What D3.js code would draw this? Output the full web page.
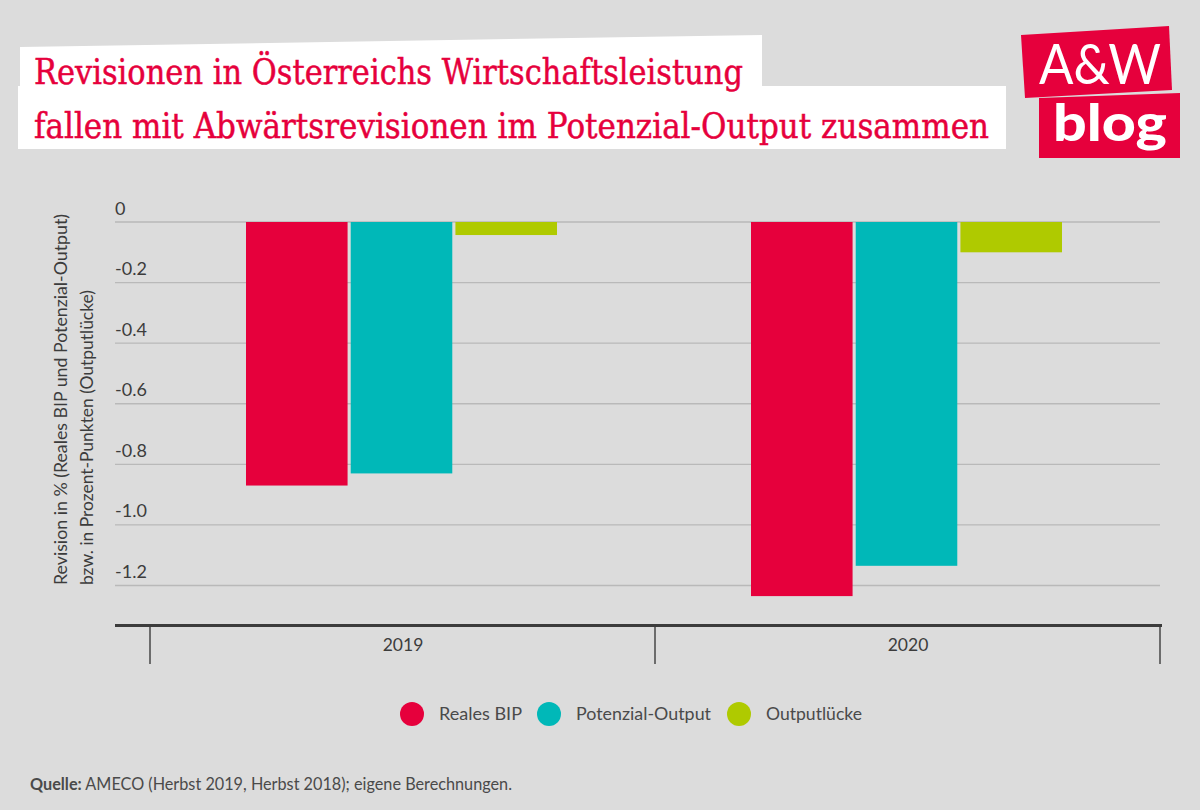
<!DOCTYPE html>
<html>
<head>
<meta charset="utf-8">
<script src="https://cdn.jsdelivr.net/npm/d3@7"></script>
<style>
  html, body { margin: 0; padding: 0; background: #dcdcdc; }
  svg { display: block; font-family: Lato, sans-serif; }
</style>
</head>
<body>
<div id="chart"></div>
<script>
const years = ["2019", "2020"];
const seriesNames = ["Reales BIP", "Potenzial-Output", "Outputlücke"];
const realesBip = [-0.87, -1.235];
const potenzialOutput = [-0.83, -1.135];
const outputluecke = [-0.043, -0.1];
const yTicks = [0, -0.2, -0.4, -0.6, -0.8, -1.0, -1.2];
const seriesColors = ["#e6003c", "#00b8b8", "#afca00"];

const fullWidth = 1200;
const fullHeight = 810;

const svg = d3.select("#chart")
  .append("svg")
  .attr("width", fullWidth)
  .attr("height", fullHeight);

svg.append("rect")
  .attr("width", fullWidth)
  .attr("height", fullHeight)
  .attr("fill", "#dcdcdc");

// Title

svg.append("path")
  .attr("d", "M20 47 L762 35 L762 86 L20 86 Z")
  .attr("fill", "#fff");
svg.append("path")
  .attr("d", "M18 86 L1006 86 L1006 149 L18 149 Z")
  .attr("fill", "#fff");

const titleLines = [
  { text: "Revisionen in Österreichs Wirtschaftsleistung", y: 84, len: 709 },
  { text: "fallen mit Abwärtsrevisionen im Potenzial-Output zusammen", y: 138, len: 955 }
];

svg.selectAll(".title")
  .data(titleLines)
  .join("text")
  .attr("class", "title")
  .attr("x", 34)
  .attr("y", d => d.y)
  .attr("textLength", d => d.len)
  .attr("lengthAdjust", "spacingAndGlyphs")
  .style("font-family", "'DejaVu Serif', serif")
  .style("font-size", "36px")
  .attr("fill", "#e6003c")
  .attr("stroke", "#e6003c")
  .attr("stroke-width", 0.5)
  .text(d => d.text);

// Logo

svg.append("path")
  .attr("d", "M1021 35 L1169 26 L1172 90 L1025 98 Z")
  .attr("fill", "#e6003c");
svg.append("path")
  .attr("d", "M1039 98 L1180 93 L1180 158 L1039 158 Z")
  .attr("fill", "#e6003c");
svg.append("text")
  .attr("x", 1039)
  .attr("y", 84)
  .attr("textLength", 122)
  .attr("lengthAdjust", "spacingAndGlyphs")
  .style("font-size", "57px")
  .attr("fill", "#fff")
  .text("A&W");
svg.append("text")
  .attr("x", 1053)
  .attr("y", 141)
  .attr("textLength", 114)
  .attr("lengthAdjust", "spacingAndGlyphs")
  .style("font-weight", 900)
  .style("font-size", "51px")
  .attr("fill", "#fff")
  .text("blog");

// Scales

const xScale = d3.scaleBand()
  .domain(years)
  .range([150, 1160]);

const groupScale = d3.scaleBand()
  .domain(seriesNames)
  .range([96, 96 + 311])
  .paddingInner(0.03);

const yScale = d3.scaleLinear()
  .domain([0, -1.2])
  .range([222, 585.5]);

// Grid Lines

svg.selectAll(".grid")
  .data(yTicks)
  .join("line")
  .attr("class", "grid")
  .attr("x1", 115)
  .attr("x2", 1160)
  .attr("y1", d => yScale(d))
  .attr("y2", d => yScale(d))
  .attr("stroke", "#b9b9b9")
  .attr("stroke-width", 1.4);

svg.selectAll(".ytick")
  .data(yTicks)
  .join("text")
  .attr("class", "ytick")
  .attr("x", 115)
  .attr("y", d => yScale(d) - 7.5)
  .style("font-size", "18px")
  .attr("fill", "#3c3c3c")
  .text(d => d === 0 ? "0" : d.toFixed(1));

// Bars

const seriesValues = [realesBip, potenzialOutput, outputluecke];

seriesNames.forEach((name, i) => {
  svg.selectAll(".bar-" + i)
    .data(seriesValues[i])
    .join("rect")
    .attr("class", "bar-" + i)
    .attr("x", (d, j) => xScale(years[j]) + groupScale(name))
    .attr("y", yScale(0))
    .attr("width", groupScale.bandwidth())
    .attr("height", d => yScale(d) - yScale(0))
    .attr("fill", seriesColors[i]);
});

// X Axis

svg.append("line")
  .attr("x1", 115)
  .attr("x2", 1162)
  .attr("y1", 625.5)
  .attr("y2", 625.5)
  .attr("stroke", "#3c3c3c")
  .attr("stroke-width", 3);

svg.selectAll(".xtick")
  .data([xScale("2019"), xScale("2020"), xScale("2020") + xScale.bandwidth()])
  .join("line")
  .attr("class", "xtick")
  .attr("x1", d => d)
  .attr("x2", d => d)
  .attr("y1", 625)
  .attr("y2", 664)
  .attr("stroke", "#3c3c3c")
  .attr("stroke-width", 1.4);

svg.selectAll(".xlabel")
  .data(years)
  .join("text")
  .attr("class", "xlabel")
  .attr("x", d => xScale(d) + xScale.bandwidth() / 2 + 0.5)
  .attr("y", 651)
  .attr("text-anchor", "middle")
  .style("font-size", "17.5px")
  .attr("fill", "#3c3c3c")
  .text(d => d);

// Y Axis Label

const yLabels = [
  { text: "Revision in % (Reales BIP und Potenzial-Output)", x: 67, len: 371 },
  { text: "bzw. in Prozent-Punkten (Outputlücke)", x: 93, len: 295 }
];

svg.selectAll(".ylabel")
  .data(yLabels)
  .join("text")
  .attr("class", "ylabel")
  .attr("transform", d => `translate(${d.x},585) rotate(-90)`)
  .attr("textLength", d => d.len)
  .attr("lengthAdjust", "spacingAndGlyphs")
  .style("font-size", "17px")
  .attr("fill", "#3c3c3c")
  .text(d => d.text);

// Legend

const legendX = [412, 549, 739];
const legendTextX = [439, 576, 766];
const legendLen = [83, 135, 96];

seriesNames.forEach((name, i) => {
  svg.append("circle")
    .attr("cx", legendX[i])
    .attr("cy", 714)
    .attr("r", 12)
    .attr("fill", seriesColors[i]);
  svg.append("text")
    .attr("x", legendTextX[i])
    .attr("y", 720)
    .attr("textLength", legendLen[i])
    .attr("lengthAdjust", "spacingAndGlyphs")
    .style("font-size", "18px")
    .attr("fill", "#4a4a4a")
    .text(name);
});

// Source

const source = svg.append("text")
  .attr("x", 30)
  .attr("y", 790)
  .attr("textLength", 482)
  .attr("lengthAdjust", "spacingAndGlyphs")
  .style("font-size", "17px")
  .attr("fill", "#4a4a4a");
source.append("tspan")
  .style("font-weight", "bold")
  .text("Quelle:");
source.append("tspan")
  .text(" AMECO (Herbst 2019, Herbst 2018); eigene Berechnungen.");
</script>
</body>
</html>
